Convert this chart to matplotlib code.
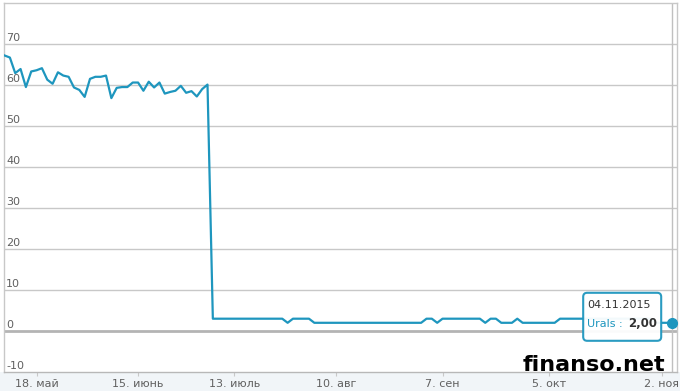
import matplotlib.pyplot as plt
from matplotlib.patches import FancyBboxPatch, Rectangle
from matplotlib.transforms import IdentityTransform

plt.rcParams['font.family'] = ['DejaVu Sans']

# Urals, one value per trading day (ordinal axis)
urals_before = [67.2, 66.7, 62.9, 63.9, 59.5, 63.3, 63.6, 64.1, 61.3, 60.3,
                63.1, 62.3, 62.0, 59.4, 58.8, 57.1, 61.5, 62.0, 62.0, 62.3,
                56.8, 59.3, 59.5, 59.5, 60.6, 60.6, 58.6, 60.8, 59.4, 60.6,
                57.9, 58.3, 58.6, 59.8, 58.1, 58.5, 57.2, 59.0, 60.1]
urals_after = [3, 3, 3, 3, 3, 3, 3, 3, 3, 3, 3, 3, 3, 3,
               2, 3, 3, 3, 3,
               2, 2, 2, 2, 2, 2, 2, 2, 2, 2, 2, 2, 2, 2, 2, 2, 2, 2, 2, 2, 2,
               3, 3, 2, 3, 3, 3, 3, 3, 3, 3, 3, 2, 3, 3, 2, 2, 2, 3,
               2, 2, 2, 2, 2, 2, 2,
               3, 3, 3, 3, 3, 3, 3, 3, 3, 3, 3, 3, 3, 3, 3, 3, 3, 3,
               2, 2, 2, 2]
urals = urals_before + urals_after

tick_pos = [6, 25, 43, 62, 82, 102, 123]
tick_labels = ['18. май', '15. июнь', '13. июль', '10. авг', '7. сен', '5. окт', '2. ноя']
y_ticks = [-10, 0, 10, 20, 30, 40, 50, 60, 70]
last_date = '04.11.2015'
series_name = 'Urals'

LINE = '#1e96be'
GRID = '#c8c8c8'
LABEL = '#606060'

fig = plt.figure(figsize=(6.8, 3.91), dpi=100)
fig.patch.set_facecolor('white')
# light band under the plot
fig.patches.append(Rectangle((0, 0), 1, 19 / 391, transform=fig.transFigure,
                             facecolor='#f1f5f8', edgecolor='none', zorder=-1))

ax = fig.add_axes([4 / 680, 19 / 391, 673 / 680, 369 / 391])
ax.set_facecolor('white')

x = list(range(len(urals)))
ax.plot(x, urals, color=LINE, lw=1.6, zorder=3, solid_joinstyle='round')

ax.set_xlim(-0.1, 125.9)
ax.set_ylim(-10, 80)

for v in y_ticks:
    if v == 0:
        ax.axhline(v, color='#b4b4b4', lw=2, zorder=1)
    elif v != -10:
        ax.axhline(v, color=GRID, lw=1, zorder=1)
    ax.annotate(str(v), xy=(0, v),
                xycoords=ax.get_yaxis_transform(), xytext=(1.5, 0.8),
                textcoords='offset points', va='bottom', ha='left',
                fontsize=8, color=LABEL)
ax.set_yticks([])

ax.set_xticks(tick_pos)
ax.set_xticklabels(tick_labels, fontsize=8, color=LABEL)
ax.tick_params(axis='x', length=3, color=GRID, pad=2)

for s in ['left', 'top', 'right']:
    ax.spines[s].set_color(GRID)
    ax.spines[s].set_linewidth(1)
ax.spines['bottom'].set_color('#b8b8b8')
ax.spines['bottom'].set_linewidth(1)

# hover crosshair and marker on the last point
last_i = len(urals) - 1
ax.axvline(last_i, color='#c0c0c0', lw=1, zorder=2)
ax.plot([last_i], [urals[-1]], 'o', color=LINE, markersize=7, zorder=5,
        clip_on=False)

# tooltip
px, py = ax.transData.transform((last_i, urals[-1]))
ident = IdentityTransform()
box = FancyBboxPatch((px - 89, py - 18), 78, 48,
                     boxstyle='round,pad=0,rounding_size=4',
                     transform=ident, facecolor='white', edgecolor=LINE,
                     lw=1.5, alpha=0.95, zorder=6)
fig.patches.append(box)
fig.text(px - 85, py + 18, last_date, transform=ident, fontsize=8,
         color='#333333', va='center', ha='left', zorder=7)
fig.text(px - 85, py - 1, series_name + ' :', transform=ident, fontsize=8,
         color=LINE, va='center', ha='left', zorder=7)
fig.text(px - 15, py - 1, f'{urals[-1]:.2f}'.replace('.', ','),
         transform=ident, fontsize=8.5, fontweight='bold', color='#333333',
         va='center', ha='right', zorder=7)

# watermark
fig.text(665 / 680, 20 / 391, 'finanso.net', fontsize=16, fontweight='bold',
         color='black', ha='right', va='baseline', zorder=8)

fig.savefig('out.png', dpi=100)
